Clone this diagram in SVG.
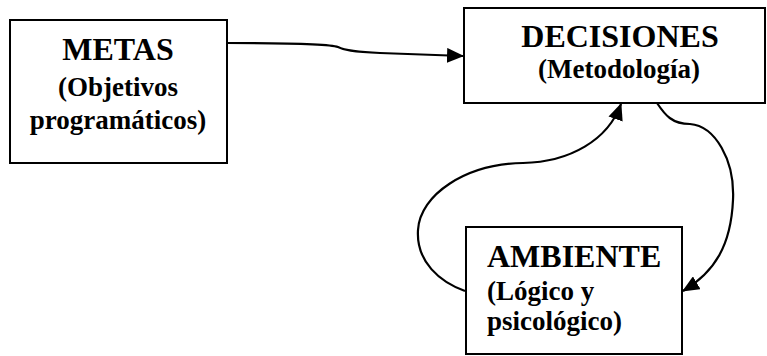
<svg xmlns="http://www.w3.org/2000/svg" width="767" height="356" viewBox="0 0 767 356">
<defs>
<marker id="arr" viewBox="0 0 17 15" refX="16" refY="7.5" markerWidth="17" markerHeight="15" markerUnits="userSpaceOnUse" orient="auto">
<path d="M0,0 L17,7.5 L0,15 Z" fill="#000"/>
</marker>
<style>
.box{fill:#fff;stroke:#000;stroke-width:2}
text{font-family:'Liberation Serif','Times New Roman','DejaVu Serif',serif;font-weight:700;fill:#000}
.big{font-size:32px}
.small{font-size:27px}
.c{stroke:#000;stroke-width:2.2;fill:none;marker-end:url(#arr)}
</style>
</defs>
<rect width="767" height="356" fill="#fff"/>
<g id="metas">
<rect class="box" x="10" y="20" width="217" height="143"/>
<text class="big" x="118" y="60" text-anchor="middle">METAS</text>
<text class="small" x="118" y="96" text-anchor="middle">(Objetivos</text>
<text class="small" x="118" y="129" text-anchor="middle">programáticos)</text>
</g>
<g id="decisiones">
<rect class="box" x="464" y="8" width="301" height="95"/>
<text class="big" x="620" y="47" text-anchor="middle">DECISIONES</text>
<text class="small" x="619" y="78" text-anchor="middle">(Metodología)</text>
</g>
<g id="ambiente">
<rect class="box" x="466" y="227" width="216" height="127"/>
<text class="big" x="487" y="267">AMBIENTE</text>
<text class="small" x="487" y="300">(Lógico y</text>
<text class="small" x="487" y="330">psicológico)</text>
</g>
<g id="connectors">
<path class="c" d="M227,43 C290,43 330,44 338,47 C344,50 352,52 380,53 L463,56"/>
<path class="c" d="M465,291 C440,282 416,262 418,230 C420,195 465,164 523,163 C570,162 608,140 621,104"/>
<path class="c" d="M657,103 C665,115 672,124 690,124 C715,126 735,160 733,200 C731,245 715,272 683,291"/>
</g>
</svg>
